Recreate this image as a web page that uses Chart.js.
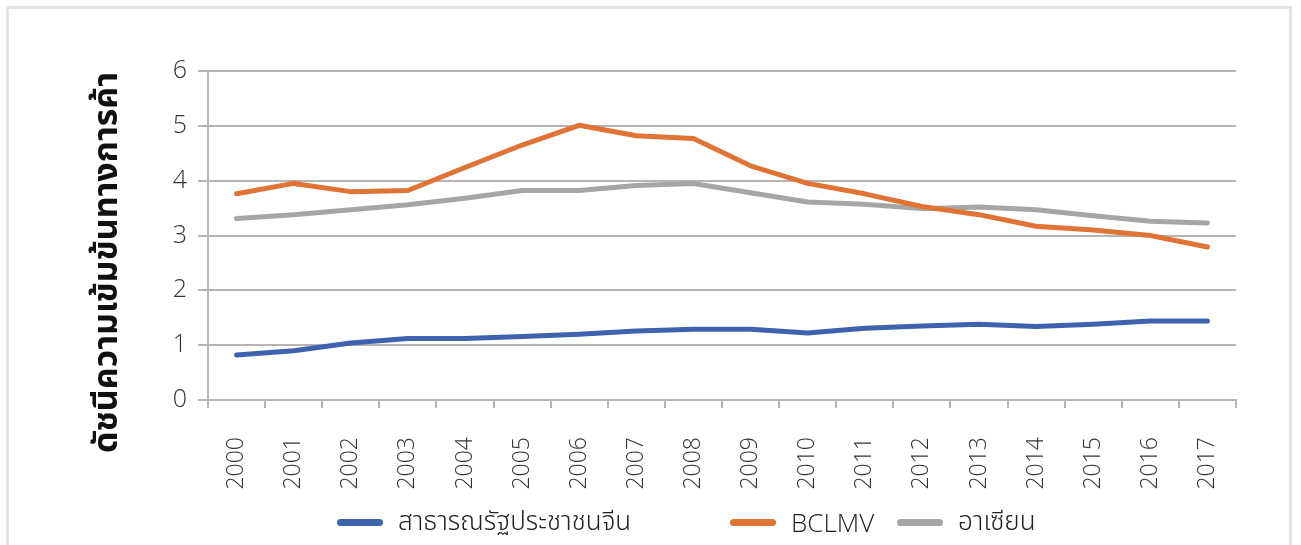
<!DOCTYPE html>
<html lang="th">
<head>
<meta charset="utf-8">
<title>ดัชนีความเข้มข้นทางการค้า</title>
<script src="https://cdn.jsdelivr.net/npm/chart.js@4.4.1/dist/chart.umd.min.js"></script>
<style>
    html, body {
        margin: 0;
        padding: 0;
        background: #ffffff;
        overflow: hidden;
    }
    .wrap {
        position: relative;
        width: 1301px;
        height: 545px;
    }
    .frame {
        position: absolute;
        left: 6px;
        top: 6px;
        width: 1286px;
        height: 560px;
        border: 3px solid #e4e4e4;
        box-sizing: border-box;
    }
    canvas {
        position: absolute;
        left: 0;
        top: 0;
    }
    .legend {
        position: absolute;
        left: 0;
        top: 506px;
        width: 1301px;
        height: 32px;
        font-family: "Open Sans", "Noto Sans Thai", "Noto Sans", sans-serif;
        font-weight: 300;
        font-size: 26px;
        color: #222;
    }
    .legend-item {
        position: absolute;
        top: 0;
        display: flex;
        align-items: center;
        height: 32px;
        white-space: nowrap;
    }
    .legend-swatch {
        width: 46px;
        height: 7px;
        border-radius: 4px;
        margin-right: 15px;
    }
</style>
</head>
<body>
<div class="wrap">
    <div class="frame"></div>
    <canvas id="intensityChart" width="1301" height="545"></canvas>
    <div class="legend" id="legend"></div>
</div>
<script>
const years = ["2000", "2001", "2002", "2003", "2004", "2005", "2006", "2007", "2008",
    "2009", "2010", "2011", "2012", "2013", "2014", "2015", "2016", "2017"];

const chinaValues = [0.82, 0.90, 1.04, 1.12, 1.12, 1.16, 1.20, 1.26, 1.29,
    1.29, 1.22, 1.31, 1.35, 1.38, 1.34, 1.38, 1.44, 1.44];
const bclmvValues = [3.76, 3.95, 3.80, 3.82, 4.24, 4.65, 5.01, 4.82, 4.77,
    4.27, 3.95, 3.76, 3.53, 3.38, 3.17, 3.10, 3.00, 2.79];
const aseanValues = [3.31, 3.38, 3.47, 3.56, 3.68, 3.82, 3.82, 3.91, 3.95,
    3.78, 3.61, 3.57, 3.49, 3.52, 3.47, 3.36, 3.26, 3.23];

const yTicks = [0, 1, 2, 3, 4, 5, 6];
const yTitle = "ดัชนีความเข้มข้นทางการค้า";

const gridColor = "#b9b4b2";
const fontFamily = "'Open Sans', 'Noto Sans', sans-serif";

// draws the rotated y axis title left of the tick labels
const yTitlePlugin = {
    id: "yTitle",
    afterDraw(chart) {
        const ctx = chart.ctx;
        const area = chart.chartArea;
        ctx.save();
        ctx.translate(110, (area.top + area.bottom) / 2 + 27);
        ctx.rotate(-Math.PI / 2);
        ctx.font = "bold 34px 'Noto Sans Thai', Tahoma, 'Noto Sans', sans-serif";
        ctx.fillStyle = "#111";
        ctx.textAlign = "center";
        ctx.textBaseline = "middle";
        ctx.fillText(yTitle, 0, 0);
        ctx.restore();
    }
};

const chart = new Chart(document.getElementById("intensityChart"), {
    type: "line",
    data: {
        labels: years,
        datasets: [
            {
                label: "สาธารณรัฐประชาชนจีน",
                data: chinaValues,
                borderColor: "#3e62ad",
                backgroundColor: "#3e62ad"
            },
            {
                label: "BCLMV",
                data: bclmvValues,
                borderColor: "#e07436",
                backgroundColor: "#e07436"
            },
            {
                label: "อาเซียน",
                data: aseanValues,
                borderColor: "#a6a6a6",
                backgroundColor: "#a6a6a6"
            }
        ].map((ds) => ({
            ...ds,
            borderWidth: 5,
            pointRadius: 0,
            tension: 0,
            borderJoinStyle: "round",
            borderCapStyle: "round",
            fill: false
        }))
    },
    options: {
        responsive: false,
        animation: false,
        layout: {
            padding: { top: 71, right: 65, bottom: 0, left: 0 }
        },
        plugins: {
            legend: { display: false },
            tooltip: { enabled: false }
        },
        scales: {
            x: {
                offset: true,
                grid: {
                    offset: true,
                    drawOnChartArea: false,
                    drawTicks: true,
                    tickLength: 8,
                    color: gridColor,
                    lineWidth: 2
                },
                border: { color: gridColor, width: 2 },
                ticks: {
                    color: "#333",
                    font: { family: fontFamily, size: 23, weight: "300" },
                    minRotation: 90,
                    maxRotation: 90,
                    padding: 29,
                    autoSkip: false
                },
                afterFit(scale) {
                    scale.height = 145;
                }
            },
            y: {
                min: 0,
                max: 6,
                afterBuildTicks(scale) {
                    scale.ticks = yTicks.map((v) => ({ value: v }));
                },
                grid: {
                    color: gridColor,
                    lineWidth: 2,
                    tickLength: 10
                },
                border: { color: gridColor, width: 2 },
                ticks: {
                    color: "#333",
                    font: { family: fontFamily, size: 25, weight: "300" },
                    padding: 11
                },
                afterFit(scale) {
                    scale.width = 208;
                }
            }
        }
    },
    plugins: [yTitlePlugin]
});

// legend built from the datasets
const legendPositions = [337, 730, 897];
const legendEl = document.getElementById("legend");
chart.data.datasets.forEach((ds, i) => {
    const item = document.createElement("div");
    item.className = "legend-item";
    item.style.left = legendPositions[i] + "px";
    item.innerHTML = `<span class="legend-swatch" style="background:${ds.borderColor}"></span><span>${ds.label}</span>`;
    legendEl.appendChild(item);
});
</script>
</body>
</html>
